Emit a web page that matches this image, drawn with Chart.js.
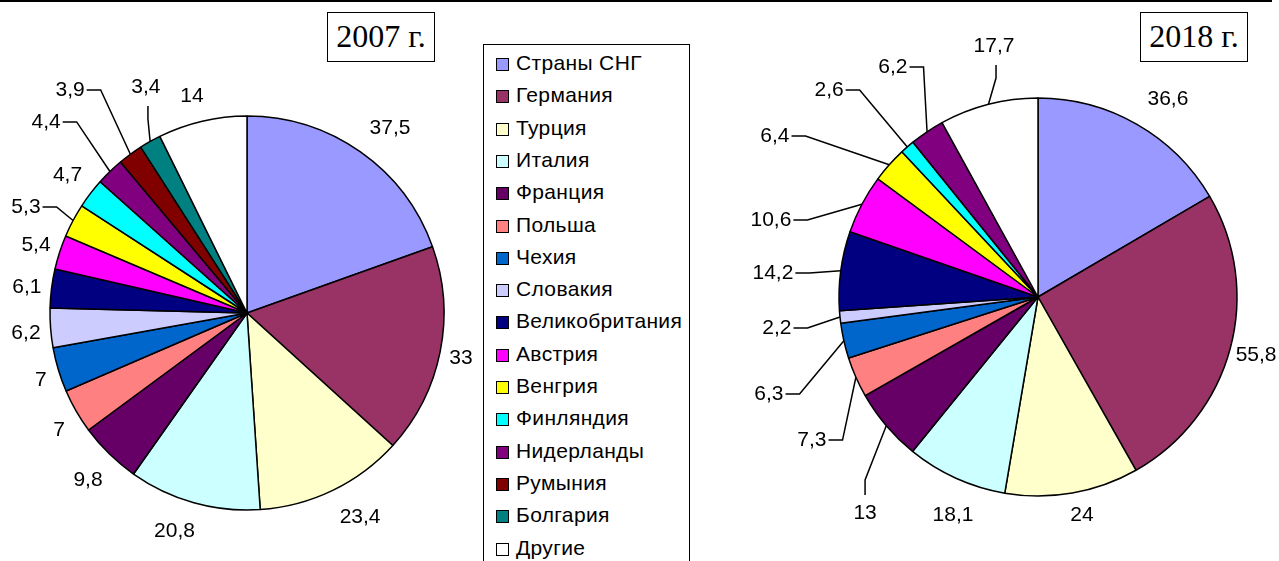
<!DOCTYPE html>
<html lang="ru">
<head>
<meta charset="utf-8">
<title>Страны 2007 / 2018</title>
<script src="https://cdn.jsdelivr.net/npm/chart.js@4.4.1/dist/chart.umd.min.js"></script>
<style>
  html, body { margin: 0; padding: 0; background: #fff; }
  body { width: 1279px; height: 561px; position: relative; overflow: hidden; font-family: "Liberation Sans", Arial, sans-serif; }
  .top-rule { position: absolute; left: 0; top: 0; width: 1272px; height: 2px; background: #000; }
  canvas { position: absolute; top: 0; }
  #pie2007 { left: 0; }
  #pie2018 { left: 690px; }
  .year-box {
    position: absolute; box-sizing: border-box; height: 50px; width: 108px;
    border: 1.5px solid #000; background: #fff;
    font-family: "Liberation Serif", "Times New Roman", serif; font-size: 32px;
    line-height: 47px; text-align: center; color: #000;
  }
  #legend {
    position: absolute; left: 483px; top: 44px; width: 207px; height: 540px;
    box-sizing: border-box; border: 1.5px solid #000; background: #fff;
  }
  #legend ul { list-style: none; margin: 0; padding: 0; }
  #legend li { position: absolute; left: 12px; height: 24px; line-height: 24px; font-size: 21px; letter-spacing: 0.35px; color: #000; white-space: nowrap; }
  #legend li span.box {
    display: inline-block; box-sizing: border-box; width: 13px; height: 13px;
    border: 1.5px solid #000; margin-right: 7px; vertical-align: -1px;
  }
</style>
</head>
<body>
<div class="top-rule"></div>
<canvas id="pie2007" width="480" height="561"></canvas>
<canvas id="pie2018" width="589" height="561"></canvas>
<div class="year-box" style="left:327px; top:12px;">2007 г.</div>
<div class="year-box" style="left:1140px; top:12px;">2018 г.</div>
<div id="legend"><ul></ul></div>

<script>
  // ── Data ──
  var CATEGORIES = [
    'Страны СНГ', 'Германия', 'Турция', 'Италия', 'Франция', 'Польша',
    'Чехия', 'Словакия', 'Великобритания', 'Австрия', 'Венгрия',
    'Финляндия', 'Нидерланды', 'Румыния', 'Болгария', 'Другие'
  ];
  var VALUES_2007 = [37.5, 33, 23.4, 20.8, 9.8, 7, 7, 6.2, 6.1, 5.4, 5.3, 4.7, 4.4, 3.9, 3.4, 14];
  var VALUES_2018 = [36.6, 55.8, 24, 18.1, 13, 7.3, 6.3, 2.2, 14.2, 10.6, 6.4, 2.6, 6.2, null, null, 17.7];

  // ── Styles ──
  var SLICE_COLORS = [
    '#9999ff', '#993366', '#ffffcc', '#ccffff', '#660066', '#ff8080',
    '#0066cc', '#ccccff', '#000080', '#ff00ff', '#ffff00',
    '#00ffff', '#800080', '#800000', '#008080', '#ffffff'
  ];

  // Label placement, relative to pie centre in units of radius: [x, y, leader]
  // leader: 'h' = dash to the right then to slice, 'down' / 'up' = vertical stub then to slice
  var LAYOUT_2007 = [
    [0.726, -0.937], [1.086, 0.228], [0.574, 1.036], [-0.368, 1.109],
    [-0.807, 0.848], [-0.954, 0.594], [-1.046, 0.340], [-1.122, 0.102],
    [-1.117, -0.132], [-1.071, -0.345], [-1.122, -0.538, 'h'], [-0.911, -0.701],
    [-1.020, -0.970, 'h'], [-0.898, -1.132, 'h'], [-0.513, -1.147, 'down'], [-0.279, -1.099]
  ];
  var LAYOUT_2018 = [
    [0.653, -0.995], [1.096, 0.291], [0.221, 1.095], [-0.427, 1.095],
    [-0.869, 1.085, 'up'], [-1.136, 0.719, 'h'], [-1.352, 0.487, 'h'], [-1.312, 0.156, 'h'],
    [-1.332, -0.121, 'h'], [-1.342, -0.387, 'h'], [-1.322, -0.809, 'h'], [-1.050, -1.040, 'h'],
    [-0.729, -1.156, 'h'], null, null, [-0.221, -1.261, 'down']
  ];

  var LABEL_FONT = '21px "Liberation Sans", Arial, sans-serif';

  function fmt(v) { return String(v).replace('.', ','); }

  // ── Value labels with leader lines ──
  function makeLabelPlugin(layout) {
    return {
      id: 'pieLabels',
      afterDatasetsDraw: function (chart) {
        var ctx = chart.ctx;
        var meta = chart.getDatasetMeta(0);
        var data = chart.data.datasets[0].data;
        ctx.save();
        ctx.font = LABEL_FONT;
        ctx.fillStyle = '#000';
        ctx.strokeStyle = '#000';
        ctx.lineWidth = 1.5;
        ctx.textAlign = 'center';
        ctx.textBaseline = 'middle';
        for (var i = 0; i < meta.data.length; i++) {
          var v = data[i];
          var lay = layout[i];
          if (v == null || !lay) continue;
          var p = meta.data[i].getProps(['x', 'y', 'startAngle', 'endAngle', 'outerRadius'], true);
          var r = p.outerRadius;
          var mid = (p.startAngle + p.endAngle) / 2;
          var ax = p.x + Math.cos(mid) * r;
          var ay = p.y + Math.sin(mid) * r;
          var lx = p.x + lay[0] * r;
          var ly = p.y + lay[1] * r;
          var text = fmt(v);
          ctx.fillText(text, lx, ly);

          if (lay[2]) {
            var w = ctx.measureText(text).width;
            ctx.beginPath();
            if (lay[2] === 'h') {
              ctx.moveTo(lx + w / 2 + 2, ly);
              ctx.lineTo(lx + w / 2 + 16, ly);
            } else if (lay[2] === 'down') {
              ctx.moveTo(lx + 2, ly + 19);
              ctx.lineTo(lx + 2, ly + 32);
            } else {
              ctx.moveTo(lx, ly - 18);
              ctx.lineTo(lx, ly - 33);
            }
            ctx.lineTo(ax, ay);
            ctx.stroke();
          }
        }
        ctx.restore();
      }
    };
  }

  // ── HTML legend built from the chart's own legend items ──
  var htmlLegend = {
    id: 'htmlLegend',
    afterUpdate: function (chart) {
      var ul = document.querySelector('#legend ul');
      ul.innerHTML = '';
      var items = chart.options.plugins.legend.labels.generateLabels(chart);
      items.forEach(function (item, i) {
        var li = document.createElement('li');
        li.style.top = (6 + i * 32.3) + 'px';
        var box = document.createElement('span');
        box.className = 'box';
        box.style.background = item.fillStyle;
        var txt = document.createElement('span');
        txt.textContent = item.text;
        li.appendChild(box);
        li.appendChild(txt);
        ul.appendChild(li);
      });
    }
  };

  function buildPie(canvasId, values, layout, radius, padding, extraPlugins) {
    var ctx = document.getElementById(canvasId).getContext('2d');
    return new Chart(ctx, {
      type: 'pie',
      data: {
        labels: CATEGORIES,
        datasets: [{
          data: values,
          backgroundColor: SLICE_COLORS,
          borderColor: '#000',
          borderWidth: 1.5
        }]
      },
      options: {
        responsive: false,
        animation: false,
        events: [],
        radius: radius,
        layout: { padding: padding },
        plugins: {
          legend: { display: false },
          tooltip: { enabled: false }
        }
      },
      plugins: [makeLabelPlugin(layout)].concat(extraPlugins || [])
    });
  }

  buildPie('pie2007', VALUES_2007, LAYOUT_2007, 197, { left: 14, right: 0, top: 65, bottom: 0 }, [htmlLegend]);
  buildPie('pie2018', VALUES_2018, LAYOUT_2018, 199, { left: 107, right: 0, top: 33, bottom: 0 });
</script>
</body>
</html>
